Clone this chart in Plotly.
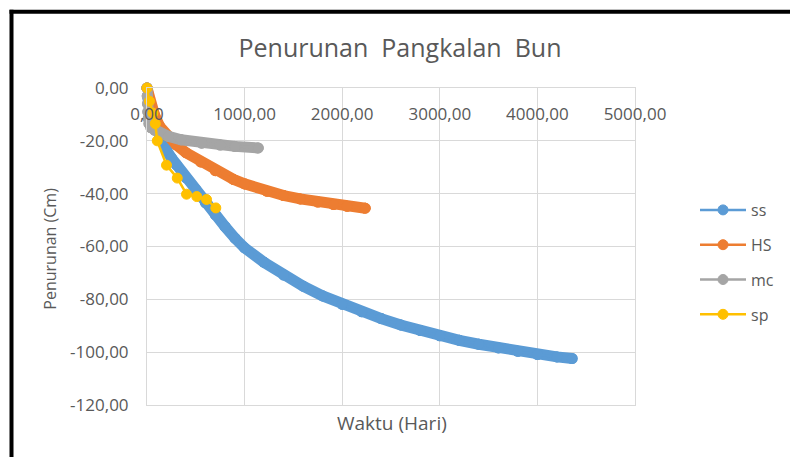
import plotly.graph_objects as go

# ---- data ----
ss_t = [0, 10, 25, 50, 75, 100, 150, 200, 250, 300, 400, 500, 600, 700, 800, 900, 1000,
        1200, 1400, 1600, 1800, 2000, 2200, 2400, 2600, 2800, 3000, 3200, 3400, 3600,
        3800, 4000, 4200, 4356]
ss_y = [0, -4, -7, -10.5, -13.5, -16, -20, -23.5, -26.5, -29, -34, -38.5, -43.5, -48,
        -52.5, -56.8, -60.5, -66.0, -70.8, -75.0, -78.7, -81.9, -84.7, -87.3, -89.7,
        -91.8, -93.8, -95.5, -97.0, -98.4, -99.7, -100.9, -101.8, -102.4]

hs_t = [0, 20, 50, 80, 130, 200, 300, 400, 550, 700, 885, 1000, 1230, 1400, 1570,
        1750, 1910, 2050, 2236]
hs_y = [0, -4, -8, -10.5, -14.5, -18, -21.5, -24.5, -28, -31.3, -34.6, -36.3, -39.1,
        -40.7, -42.0, -43.2, -44.1, -44.8, -45.5]

mc_t = [0, 2, 5, 8, 12, 20, 40, 80, 150, 220, 350, 560, 750, 900, 1140]
mc_y = [0, -3, -6, -9, -11.5, -13.5, -15, -16, -17.3, -18.3, -19.6, -20.9, -21.6,
        -22.1, -22.7]

sp_t = [0, 25, 60, 85, 105, 200, 310, 405, 510, 610, 705]
sp_y = [0, -5, -9.5, -13.5, -20, -29.2, -34.1, -40.2, -41.1, -42.2, -45.4]

x_ticks = [0, 1000, 2000, 3000, 4000, 5000]
x_tick_labels = ["0,00", "1000,00", "2000,00", "3000,00", "4000,00", "5000,00"]
y_ticks = [0, -20, -40, -60, -80, -100, -120]
y_tick_labels = ["0,00", "-20,00", "-40,00", "-60,00", "-80,00", "-100,00", "-120,00"]

series = [
    ("ss", ss_t, ss_y, "#5B9BD5", True),
    ("HS", hs_t, hs_y, "#ED7D31", True),
    ("mc", mc_t, mc_y, "#A5A5A5", True),
    ("sp", sp_t, sp_y, "#FFC000", False),
]

FONT = "Open Sans"
TXT = "#595959"

fig = go.Figure()
for name, xs, ys, col, dense in series:
    if dense:
        fig.add_trace(go.Scatter(
            x=xs, y=ys, mode="lines+markers", showlegend=False, legendgroup=name,
            line=dict(color=col, width=11), marker=dict(color=col, size=11),
            cliponaxis=False, hoverinfo="skip"))
    fig.add_trace(go.Scatter(
        x=xs, y=ys, mode="lines+markers", name=name, legendgroup=name,
        line=dict(color=col, width=2.5),
        marker=dict(color=col, size=10, line=dict(color=col, width=1)),
        cliponaxis=False))

W, H = 790, 457
L, R, T, B = 147, 635, 88.3, 405.3


def px_x(p):
    return (p - L) / (R - L)


def px_y(p):
    return (B - p) / (B - T)


fig.update_layout(
    width=W, height=H,
    margin=dict(l=L, r=W - R, t=T, b=H - B, autoexpand=False),
    paper_bgcolor="white", plot_bgcolor="white",
    font=dict(family=FONT, color=TXT, size=16),
    title=dict(text="Penurunan  Pangkalan  Bun", x=400 / W, xanchor="center",
               y=1 - 48 / H, yanchor="middle", font=dict(size=25, color=TXT)),
    xaxis=dict(range=[0, 5000], side="top", tickvals=x_ticks, ticktext=x_tick_labels,
               ticklabelposition="inside", ticklabelstandoff=21, ticklabeloverflow="allow",
               showgrid=True, gridcolor="#D9D9D9", gridwidth=1, zeroline=False,
               showline=True, mirror=True, linecolor="#D9D9D9", linewidth=1,
               ticks="", tickfont=dict(size=17, color=TXT)),
    yaxis=dict(range=[-120, 0], tickvals=y_ticks, ticktext=y_tick_labels,
               showgrid=True, gridcolor="#D9D9D9", gridwidth=1, zeroline=False,
               showline=True, mirror=True, linecolor="#D9D9D9", linewidth=1,
               ticklabeloverflow="allow",
               ticks="", ticklabelstandoff=14, tickfont=dict(size=17, color=TXT)),
    legend=dict(xref="container", yref="container", x=695 / W, y=1 - 193 / H,
                xanchor="left", yanchor="top",
                font=dict(size=16, color=TXT), tracegroupgap=11, itemwidth=46,
                bgcolor="rgba(0,0,0,0)"),
    annotations=[
        dict(text="Waktu (Hari)", xref="paper", yref="paper", x=px_x(391.5), y=px_y(423),
             xanchor="center", yanchor="middle", showarrow=False,
             font=dict(size=19, color=TXT)),
        dict(text="Penurunan (Cm)", xref="paper", yref="paper", x=px_x(50), y=px_y(249),
             xanchor="center", yanchor="middle", textangle=-90, showarrow=False,
             font=dict(size=16, color=TXT)),
    ],
    shapes=[
        dict(type="line", xref="paper", yref="paper", x0=px_x(11.5), x1=px_x(11.5),
             y0=px_y(10), y1=px_y(460), line=dict(color="black", width=4)),
        dict(type="line", xref="paper", yref="paper", x0=px_x(9.5), x1=px_x(800),
             y0=px_y(12), y1=px_y(12), line=dict(color="black", width=4)),
    ],
)

fig.write_html("out.html", config={"displayModeBar": False},
               post_script="document.body.style.margin='0px';")
